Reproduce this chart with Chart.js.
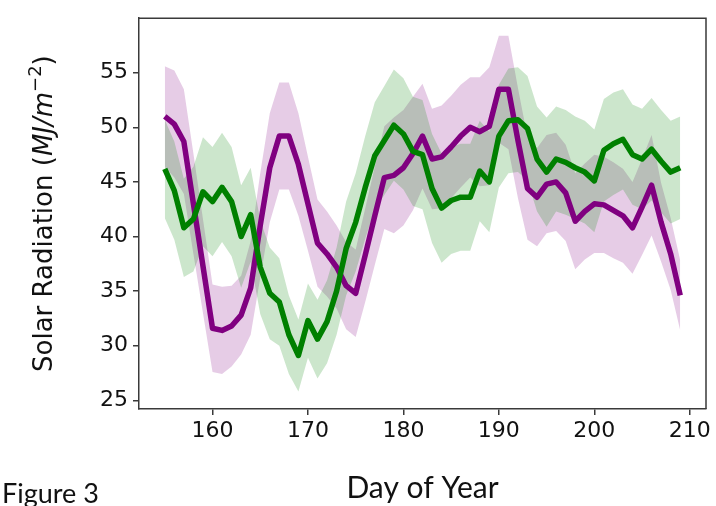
<!DOCTYPE html>
<html>
<head>
<meta charset="utf-8">
<script src="https://cdn.jsdelivr.net/npm/chart.js@4.4.1/dist/chart.umd.min.js"></script>
<style>
  html, body { margin: 0; padding: 0; background: #fff; }
  #wrap { position: relative; width: 716px; height: 506px; overflow: hidden; }
  #fig { position: absolute; left: 2px; top: 479px; font-family: Lato, "Open Sans", sans-serif; font-size: 27px; line-height: 27px; color: #111; white-space: nowrap; }
</style>
</head>
<body>
<div id="wrap">
  <canvas id="c" width="716" height="506"></canvas>
  <div id="fig">Figure 3</div>
</div>
<script>
const days = [155,156,157,158,159,160,161,162,163,164,165,166,167,168,169,170,171,172,173,174,175,176,177,178,179,180,181,182,183,184,185,186,187,188,189,190,191,192,193,194,195,196,197,198,199,200,201,202,203,204,205,206,207,208,209];

const purpleMean = [51.0,50.3,48.7,43.0,37.3,31.6,31.4,31.8,32.8,35.3,41.0,46.3,49.2,49.2,46.6,43.0,39.4,38.4,37.2,35.5,34.8,38.3,41.9,45.4,45.6,46.3,47.6,49.2,47.1,47.3,48.2,49.2,50.0,49.6,50.1,53.5,53.5,48.8,44.4,43.6,44.8,45.0,44.0,41.4,42.3,43.0,42.9,42.4,41.9,40.8,42.7,44.7,41.3,38.4,34.6];
const purpleLow  = [46.4,45.4,43.9,38.4,33.0,27.6,27.4,28.1,29.2,31.0,36.2,41.3,44.3,44.3,41.9,38.7,35.4,34.5,33.4,31.5,30.8,34.0,37.4,40.7,40.3,41.0,42.4,44.4,42.5,42.6,43.5,44.5,45.4,44.6,44.7,48.6,48.0,43.5,39.7,39.1,40.3,40.5,39.6,37.0,37.9,38.5,38.5,38.0,37.6,36.6,38.3,40.1,37.7,35.1,31.4];
const purpleHigh = [55.6,55.2,53.5,47.6,41.6,35.6,35.4,35.5,36.4,39.6,45.8,51.3,54.1,54.1,51.3,47.3,43.4,42.3,41.0,39.5,38.8,42.6,46.4,50.1,50.9,51.6,52.8,54.0,51.7,52.0,52.9,53.9,54.6,54.6,55.5,58.4,58.4,53.6,49.1,48.1,49.3,49.5,48.4,45.8,46.7,47.5,47.3,46.8,46.2,45.0,47.1,49.3,44.9,41.7,37.8];

const greenMean = [46.2,44.2,40.8,41.6,44.1,43.2,44.5,43.2,40.0,42.0,37.2,34.8,34.0,31.0,29.1,32.3,30.6,32.2,35.0,38.9,41.3,44.5,47.4,48.8,50.2,49.4,47.8,47.5,44.4,42.6,43.3,43.6,43.6,46.0,45.0,49.2,50.6,50.7,49.9,47.1,45.9,47.1,46.8,46.3,45.9,45.1,47.9,48.5,48.9,47.5,47.1,48.0,46.9,45.9,46.3];
const greenLow  = [41.7,39.7,36.3,36.8,39.1,38.2,39.5,38.2,35.3,37.7,32.9,30.6,30.0,27.4,25.8,28.9,27.0,28.4,31.0,34.6,36.8,39.8,42.5,43.8,45.1,44.3,42.8,42.5,39.4,37.6,38.4,38.7,38.7,41.4,40.4,44.5,45.8,45.9,45.1,42.3,40.9,42.3,42.0,41.6,41.2,40.4,43.2,43.8,44.3,42.9,42.5,43.3,42.2,41.2,41.6];
const greenHigh = [50.7,48.7,45.3,46.4,49.1,48.2,49.5,48.2,44.7,46.3,41.5,39.0,38.0,34.6,32.4,35.7,34.2,36.0,39.0,43.2,45.8,49.2,52.3,53.8,55.3,54.5,52.8,52.5,49.4,47.6,48.2,48.5,48.5,50.6,49.6,53.9,55.4,55.5,54.7,51.9,50.9,51.9,51.6,51.0,50.6,49.8,52.6,53.2,53.5,52.1,51.7,52.7,51.6,50.6,51.0];

const xTicks = [160,170,180,190,200,210];
const yTicks = [25,30,35,40,45,50,55];

const pts = arr => arr.map((v, i) => ({x: days[i], y: v}));

const PURPLE = '#800080';
const GREEN = '#008000';
const FRAME = '#3a3a3a';
const TICKFONT = {family: '"DejaVu Sans"', size: 22};

const framePlugin = {
  id: 'frame',
  afterDraw(chart) {
    const {ctx, chartArea: ca} = chart;
    ctx.save();
    ctx.strokeStyle = FRAME;
    ctx.lineWidth = 1.5;
    ctx.beginPath();
    ctx.moveTo(ca.left, ca.top);
    ctx.lineTo(ca.right, ca.top);
    ctx.lineTo(ca.right, ca.bottom);
    ctx.stroke();
    ctx.restore();

    // y axis label with mathtext-like styling
    const S = 26;
    const segs = [
      {t: 'Solar Radiation (', f: `${S}px "DejaVu Sans"`, dy: 0},
      {t: 'MJ/m', f: `italic ${S}px "DejaVu Sans"`, dy: 0},
      {t: '\u22122', f: `${Math.round(S * 0.7)}px "DejaVu Sans"`, dy: -S * 0.42},
      {t: ')', f: `${S}px "DejaVu Sans"`, dy: 0}
    ];
    ctx.save();
    let total = 0;
    segs.forEach(s => { ctx.font = s.f; s.w = ctx.measureText(s.t).width; total += s.w; });
    ctx.translate(52, (ca.top + ca.bottom) / 2);
    ctx.rotate(-Math.PI / 2);
    ctx.fillStyle = '#111';
    ctx.textBaseline = 'alphabetic';
    ctx.textAlign = 'left';
    let x = -total / 2;
    segs.forEach(s => { ctx.font = s.f; ctx.fillText(s.t, x, s.dy); x += s.w; });
    ctx.restore();
  }
};

new Chart(document.getElementById('c'), {
  type: 'line',
  data: {
    datasets: [
      {label: 'green', data: pts(greenMean), borderColor: GREEN, borderWidth: 5.5, pointRadius: 0, fill: false, order: 0, borderJoinStyle: 'round', borderCapStyle: 'butt'},
      {label: 'purple', data: pts(purpleMean), borderColor: PURPLE, borderWidth: 5.5, pointRadius: 0, fill: false, order: 1, borderJoinStyle: 'round', borderCapStyle: 'butt'},
      {label: 'gLow', data: pts(greenLow), borderWidth: 0, borderColor: 'rgba(0,0,0,0)', pointRadius: 0, fill: false, order: 2},
      {label: 'gHigh', data: pts(greenHigh), borderWidth: 0, borderColor: 'rgba(0,0,0,0)', pointRadius: 0, fill: '-1', backgroundColor: 'rgba(0,128,0,0.2)', order: 3},
      {label: 'pLow', data: pts(purpleLow), borderWidth: 0, borderColor: 'rgba(0,0,0,0)', pointRadius: 0, fill: false, order: 4},
      {label: 'pHigh', data: pts(purpleHigh), borderWidth: 0, borderColor: 'rgba(0,0,0,0)', pointRadius: 0, fill: '-1', backgroundColor: 'rgba(128,0,128,0.2)', order: 5}
    ]
  },
  options: {
    responsive: false,
    animation: false,
    devicePixelRatio: 1,
    layout: {padding: {left: 0, right: 10, top: 9, bottom: 0}},
    plugins: {legend: {display: false}, tooltip: {enabled: false}},
    elements: {line: {tension: 0}},
    scales: {
      x: {
        type: 'linear',
        min: 152.3, max: 211.7,
        afterBuildTicks: s => { s.ticks = xTicks.map(v => ({value: v})); },
        afterFit: s => { s.height = 97; },
        ticks: {font: TICKFONT, color: '#111', padding: 3, maxRotation: 0, autoSkip: false},
        grid: {display: true, drawOnChartArea: false, drawTicks: true, tickLength: 6, color: FRAME, lineWidth: 1.5},
        border: {display: true, color: FRAME, width: 1.5},
        title: {display: true, text: 'Day of Year', font: {family: 'Lato', size: 30}, color: '#111', padding: {top: 0, bottom: 0}}
      },
      y: {
        type: 'linear',
        min: 24.2, max: 60.0,
        afterBuildTicks: s => { s.ticks = yTicks.map(v => ({value: v})); },
        afterFit: s => { s.width = 139; },
        ticks: {font: TICKFONT, color: '#111', padding: 5, autoSkip: false},
        grid: {display: true, drawOnChartArea: false, drawTicks: true, tickLength: 6, color: FRAME, lineWidth: 1.5},
        border: {display: true, color: FRAME, width: 1.5},
        title: {display: false}
      }
    }
  },
  plugins: [framePlugin]
});
</script>
</body>
</html>
